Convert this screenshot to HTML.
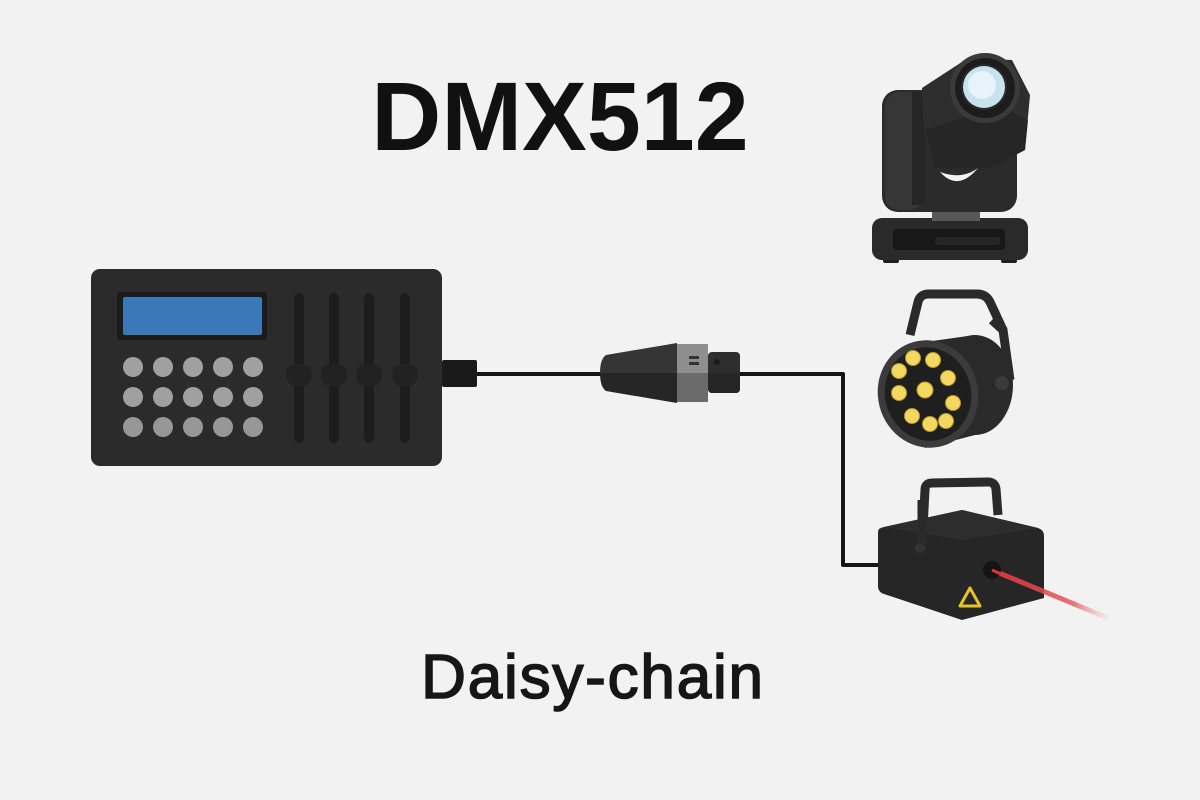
<!DOCTYPE html>
<html>
<head>
<meta charset="utf-8">
<style>
  html,body{margin:0;padding:0;background:#f2f2f2;}
  svg{display:block;}
  text{font-family:"Liberation Sans",Arial,sans-serif;}
</style>
</head>
<body>
<svg width="1200" height="800" viewBox="0 0 1200 800" xmlns="http://www.w3.org/2000/svg">
  <defs>
    <linearGradient id="beam" x1="0" y1="0" x2="1" y2="0">
      <stop offset="0" stop-color="#d8363a"/>
      <stop offset="0.7" stop-color="#e0555a" stop-opacity="0.8"/>
      <stop offset="1" stop-color="#f0a0a0" stop-opacity="0.1"/>
    </linearGradient>
  </defs>
  <rect width="1200" height="800" fill="#f2f2f2"/>

  <!-- Title -->
  <text x="560" y="150" text-anchor="middle" font-size="97" font-weight="bold" fill="#111">DMX512</text>
  <text x="593" y="698" text-anchor="middle" font-size="62" font-weight="normal" letter-spacing="1.8" fill="#161616" stroke="#161616" stroke-width="1.6">Daisy-chain</text>

  <!-- Cables -->
  <path d="M470,374 L610,374" stroke="#151515" stroke-width="4" fill="none"/>
  <path d="M735,374 L843,374 L843,565 L885,565" stroke="#151515" stroke-width="4" fill="none" stroke-linejoin="round"/>

  <!-- Console -->
  <rect x="91" y="269" width="351" height="197" rx="9" fill="#2b2b2b"/>
  <rect x="442" y="360" width="35" height="27" rx="2" fill="#1a1a1a"/>
  <rect x="117" y="292" width="150" height="48" rx="3" fill="#1b1b1b"/>
  <rect x="123" y="297" width="139" height="38" rx="2" fill="#3a78b7"/>
  <g fill="#a0a0a0">
    <circle cx="133" cy="367" r="10"/><circle cx="163" cy="367" r="10"/><circle cx="193" cy="367" r="10"/><circle cx="223" cy="367" r="10"/><circle cx="253" cy="367" r="10"/>
    <circle cx="133" cy="397" r="10"/><circle cx="163" cy="397" r="10"/><circle cx="193" cy="397" r="10"/><circle cx="223" cy="397" r="10"/><circle cx="253" cy="397" r="10"/>
  </g>
  <g fill="#979797">
    <circle cx="133" cy="427" r="10"/><circle cx="163" cy="427" r="10"/><circle cx="193" cy="427" r="10"/><circle cx="223" cy="427" r="10"/><circle cx="253" cy="427" r="10"/>
  </g>
  <g fill="#1d1d1d">
    <rect x="294" y="293" width="10" height="150" rx="5"/>
    <rect x="329" y="293" width="10" height="150" rx="5"/>
    <rect x="364" y="293" width="10" height="150" rx="5"/>
    <rect x="400" y="293" width="10" height="150" rx="5"/>
  </g>
  <g fill="#222">
    <rect x="286" y="364" width="26" height="22" rx="10"/>
    <rect x="321" y="364" width="26" height="22" rx="10"/>
    <rect x="356" y="364" width="26" height="22" rx="10"/>
    <rect x="392" y="364" width="26" height="22" rx="10"/>
  </g>

  <!-- XLR connector -->
  <path d="M606,355 L677,343 L677,373 L600,373 Q600,359 606,355 Z" fill="#353535"/>
  <path d="M600,373 L677,373 L677,403 L606,391 Q600,387 600,373 Z" fill="#262626"/>
  <rect x="677" y="344" width="31" height="29" fill="#8e8e8e"/>
  <rect x="677" y="373" width="31" height="29" fill="#6b6b6b"/>
  <rect x="689" y="356" width="10" height="3" fill="#333"/>
  <rect x="689" y="362" width="10" height="3" fill="#333"/>
  <rect x="708" y="352" width="32" height="41" rx="4" fill="#2e2e2e"/>
  <rect x="708" y="373" width="32" height="20" rx="4" fill="#262626"/>
  <circle cx="717" cy="362" r="3" fill="#1a1a1a"/>

  <!-- Moving head -->
  <rect x="883" y="256" width="16" height="7" rx="2" fill="#1e1e1e"/>
  <rect x="1001" y="256" width="16" height="7" rx="2" fill="#1e1e1e"/>
  <rect x="872" y="218" width="156" height="42" rx="10" fill="#2a2a2a"/>
  <rect x="893" y="229" width="112" height="21" rx="4" fill="#181818"/>
  <rect x="935" y="237" width="65" height="8" rx="3" fill="#262626"/>
  <rect x="932" y="205" width="48" height="16" fill="#575757"/>
  <rect x="882" y="90" width="135" height="122" rx="16" fill="#2b2b2b"/>
  <rect x="885" y="92" width="38" height="118" rx="14" fill="#363636"/>
  <path d="M912,92 L925,92 L925,205 L912,205 Z" fill="#262626"/>
  <path d="M922,88 L968,58 L1012,60 L1030,95 L1025,150 L990,168 L935,168 L924,130 Z" fill="#2e2e2e"/>
  <path d="M925,130 L1000,105 L1028,120 L1025,150 L990,168 L935,168 Z" fill="#262626"/>
  <path d="M940,172 Q958,192 978,168 Q962,180 940,172 Z" fill="#f2f2f2"/>
  <circle cx="985" cy="88" r="35" fill="#3a3a3a"/>
  <circle cx="985" cy="88" r="30" fill="#1c1c1c"/>
  <circle cx="984" cy="87" r="23" fill="#2a2a2a"/>
  <circle cx="984" cy="87" r="21" fill="#c8e2ef"/>
  <circle cx="982" cy="85" r="14" fill="#e6f3f9"/>

  <!-- PAR can -->
  <path d="M910,335 L918,302 Q920,294 929,294 L977,294 Q986,294 990,302 L1003,330" stroke="#2a2a2a" stroke-width="9" fill="none" stroke-linejoin="round"/>
  <path d="M925,342 L975,335 L975,435 L925,448 Z" fill="#2a2a2a"/>
  <ellipse cx="975" cy="385" rx="38" ry="50" fill="#2a2a2a"/>
  <path d="M992,320 L1003,330 L1010,380" stroke="#2a2a2a" stroke-width="9" fill="none"/>
  <circle cx="1002" cy="383" r="7" fill="#3a3a3a"/>
  <ellipse cx="928" cy="394" rx="50" ry="54" transform="rotate(-15 928 394)" fill="#3b3b3b"/>
  <ellipse cx="928" cy="394" rx="43" ry="47" transform="rotate(-15 928 394)" fill="#1f1f1f"/>
  <g fill="#f3d761" stroke="#b89a2a" stroke-width="1">
    <circle cx="913" cy="358" r="7.5"/>
    <circle cx="933" cy="360" r="7.5"/>
    <circle cx="899" cy="371" r="7.5"/>
    <circle cx="948" cy="378" r="7.5"/>
    <circle cx="899" cy="393" r="7.5"/>
    <circle cx="925" cy="390" r="8"/>
    <circle cx="953" cy="403" r="7.5"/>
    <circle cx="912" cy="416" r="7.5"/>
    <circle cx="930" cy="424" r="7.5"/>
    <circle cx="946" cy="421" r="7.5"/>
  </g>

  <!-- Laser -->
  <path d="M922,548 L925,490 Q925,483 932,483 L988,482 Q995,482 996,489 L998,515" stroke="#2a2a2a" stroke-width="9" fill="none" stroke-linejoin="round"/>
  <path d="M878,532 Q878,528 884,527 L962,510 L1038,528 Q1044,530 1044,536 L1044,598 L962,620 L884,594 Q878,592 878,586 Z" fill="#262626"/>
  <path d="M884,527 L962,510 L1038,528 L962,540 Z" fill="#2d2d2d"/>
  <path d="M922,500 L922,548" stroke="#2a2a2a" stroke-width="9"/>
  <circle cx="920" cy="548" r="5" fill="#333"/>
  <line x1="992" y1="570" x2="1108" y2="618" stroke="url(#beam)" stroke-width="5"/>
  <circle cx="992" cy="570" r="9" fill="#141414"/>
  <line x1="992" y1="570" x2="1001" y2="574" stroke="#d8363a" stroke-width="3"/>
  <polygon points="970,588 960,606 980,606" fill="none" stroke="#e6c22a" stroke-width="3" stroke-linejoin="round"/>
</svg>
</body>
</html>
